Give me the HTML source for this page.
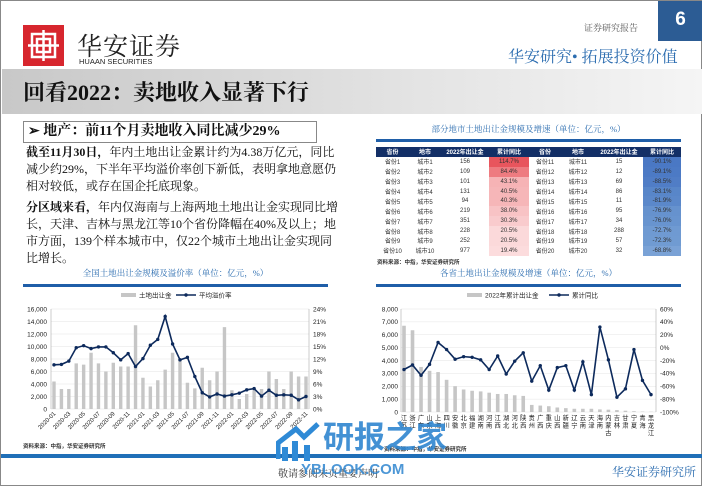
<!DOCTYPE html>
<html><head><meta charset="utf-8">
<style>
*{margin:0;padding:0;box-sizing:border-box}
body{width:702px;height:486px;position:relative;background:#fff;overflow:hidden;font-family:"Liberation Serif","Noto Serif CJK SC",serif;border:1px solid #888}
.a{position:absolute;white-space:nowrap}
.t{font-family:"Liberation Sans","Noto Sans CJK SC",sans-serif}
table{border-collapse:collapse;font-family:"Liberation Sans","Noto Sans CJK SC",sans-serif;font-size:6px;color:#333}
td{height:9.9px;text-align:center;padding:0}
.p div{height:17.2px;white-space:nowrap}
</style></head><body>
<!-- logo -->
<div class="a" style="left:22px;top:24px;width:41px;height:41px;background:#d7262e"></div>
<svg class="a" style="left:22px;top:24px" width="41" height="41"><g fill="none" stroke="#fff" stroke-width="2.5"><rect x="9" y="9" width="23" height="23"/><line x1="20.5" y1="5" x2="20.5" y2="36"/><line x1="5" y1="20.5" x2="36" y2="20.5"/><rect x="14" y="14" width="13" height="13"/></g></svg>
<div class="a" style="left:76px;top:26px;font-size:25px;color:#222;letter-spacing:1px">华安证券</div>
<div class="a t" style="left:78px;top:56px;font-size:7.5px;color:#222">HUAAN SECURITIES</div>
<div class="a" style="left:583px;top:20px;font-size:9px;color:#555">证券研究报告</div>
<div class="a t" style="left:657px;top:0;width:45px;height:40px;background:#2c5c94;color:#fff;font-size:19px;font-weight:bold;text-align:center;line-height:38px">6</div>
<div class="a" style="left:507px;top:47px;font-size:16px;line-height:20px;color:#2c6db0">华安研究• 拓展投资价值</div>
<div class="a" style="left:1px;top:68px;width:700px;height:45px;background:linear-gradient(90deg,#c8c8c8,#e4e4e4 60%,#f5f5f5)"></div>
<div class="a" style="left:22px;top:75px;font-size:22px;font-weight:bold;color:#111">回看2022：卖地收入显著下行</div>
<!-- subtitle -->
<div class="a" style="left:22px;top:120px;width:294px;height:22px;border:1px solid #888;font-size:14px;font-weight:bold;line-height:20px;padding-left:4px;color:#111">➢ 地产：前11个月卖地收入同比减少29%</div>
<div class="a p" style="left:25px;top:143px;font-size:12px;line-height:17.2px;color:#111">
<div><b>截至11月30日，</b>年内土地出让金累计约为4.38万亿元，同比</div>
<div>减少约29%，下半年平均溢价率创下新低，表明拿地意愿仍</div>
<div>相对较低，或存在国企托底现象。</div>
<div style="height:3px"></div>
<div><b>分区域来看，</b>年内仅海南与上海两地土地出让金实现同比增</div>
<div>长，天津、吉林与黑龙江等10个省份降幅在40%及以上；地</div>
<div>市方面，139个样本城市中，仅22个城市土地出让金实现同</div>
<div>比增长。</div>
</div>
<!-- table -->
<div class="a" style="left:375px;top:122px;width:305px;text-align:center;font-size:8.5px;color:#2c6db0">部分地市土地出让金规模及增速（单位：亿元，%）</div>
<div class="a" style="left:375px;top:138px;width:305px;height:3px;background:#1f5ea8"></div>
<table class="a" style="left:375px;top:146px;width:305px">
<tr style="background:#132f66;color:#fff;font-weight:bold"><td style="width:33px">省份</td><td style="width:32px">地市</td><td style="width:48px">2022年出让金</td><td style="width:40px">累计同比</td><td style="width:32px">省份</td><td style="width:34px">地市</td><td style="width:48px">2022年出让金</td><td style="width:38px">累计同比</td></tr>
<tr><td>省份1</td><td>城市1</td><td>156</td><td style="background:#e8555d">114.7%</td><td>省份11</td><td>城市11</td><td>15</td><td style="background:#4a78c4">-90.1%</td></tr>
<tr><td>省份2</td><td>城市2</td><td>109</td><td style="background:#ee7b80">84.4%</td><td>省份12</td><td>城市12</td><td>12</td><td style="background:#4c7ac5">-89.1%</td></tr>
<tr><td>省份3</td><td>城市3</td><td>101</td><td style="background:#f6b3b5">43.1%</td><td>省份13</td><td>城市13</td><td>69</td><td style="background:#507dc6">-88.5%</td></tr>
<tr><td>省份4</td><td>城市4</td><td>131</td><td style="background:#f6b6b8">40.5%</td><td>省份14</td><td>城市14</td><td>86</td><td style="background:#5886c9">-83.1%</td></tr>
<tr><td>省份5</td><td>城市5</td><td>94</td><td style="background:#f6b6b8">40.3%</td><td>省份15</td><td>城市15</td><td>11</td><td style="background:#5b88ca">-81.9%</td></tr>
<tr><td>省份6</td><td>城市6</td><td>219</td><td style="background:#f8c3c5">38.0%</td><td>省份16</td><td>城市16</td><td>95</td><td style="background:#6692ce">-76.9%</td></tr>
<tr><td>省份7</td><td>城市7</td><td>351</td><td style="background:#f9cbcd">30.3%</td><td>省份17</td><td>城市17</td><td>34</td><td style="background:#6894cf">-76.0%</td></tr>
<tr><td>省份8</td><td>城市8</td><td>228</td><td style="background:#fbd9da">20.5%</td><td>省份18</td><td>城市18</td><td>288</td><td style="background:#6f9ad2">-72.7%</td></tr>
<tr><td>省份9</td><td>城市9</td><td>252</td><td style="background:#fbd9da">20.5%</td><td>省份19</td><td>城市19</td><td>57</td><td style="background:#709bd2">-72.3%</td></tr>
<tr><td>省份10</td><td>城市10</td><td>977</td><td style="background:#fcdcdd">19.4%</td><td>省份20</td><td>城市20</td><td>32</td><td style="background:#7aa2d6">-68.8%</td></tr>
</table>
<div class="a t" style="left:376px;top:257px;font-size:5.5px;color:#333;font-weight:bold">资料来源：中指，华安证券研究所</div>
<!-- left chart -->
<div class="a" style="left:22px;top:266px;width:305px;text-align:center;font-size:8.5px;color:#2c6db0">全国土地出让金规模及溢价率（单位：亿元，%）</div>
<div class="a" style="left:22px;top:283px;width:305px;height:3px;background:#1f5ea8"></div>
<svg class="a t" style="left:0;top:288px" width="340" height="160" font-family="Liberation Sans, Noto Sans CJK SC, sans-serif" font-size="6.5" fill="#222" id="L"></svg>
<div class="a t" style="left:22px;top:441px;font-size:5.5px;color:#333;font-weight:bold">资料来源：中指，华安证券研究所</div>
<!-- right chart -->
<div class="a" style="left:375px;top:266px;width:305px;text-align:center;font-size:8.5px;color:#2c6db0">各省土地出让金规模及增速（单位：亿元，%）</div>
<div class="a" style="left:375px;top:283px;width:305px;height:3px;background:#1f5ea8"></div>
<svg class="a" style="left:350px;top:288px" width="352" height="160" font-family="Liberation Sans, Noto Sans CJK SC, sans-serif" font-size="6.5" fill="#222" id="R"></svg>
<div class="a t" style="left:383px;top:444px;font-size:5.5px;color:#333;font-weight:bold">资料来源：中指，华安证券研究所</div>
<!-- footer -->
<div class="a" style="left:0;top:453px;width:702px;height:4px;background:#1f6fb8"></div>
<div class="a" style="left:277px;top:464px;font-size:10px;color:#333">敬请参阅末页重要声明</div>
<div class="a" style="left:611px;top:462px;font-size:12px;color:#2c6db0">华安证券研究所</div>
<svg class="a" style="left:275px;top:420px" width="45" height="40"><path d="M2 38 L2 22 L20 8 L28 16 L42 3" stroke="#2f8ad6" stroke-width="5" fill="none"/><rect x="6" y="26" width="6" height="14" fill="#2f8ad6"/><rect x="16" y="20" width="6" height="20" fill="#2f8ad6"/><rect x="28" y="24" width="6" height="16" fill="#2f8ad6"/></svg>
<div class="a t" style="left:322px;top:411px;font-size:31px;font-weight:bold;color:#2f86d0;opacity:.9">研报之家</div>
<div class="a t" style="left:300px;top:460px;font-size:15px;font-weight:bold;color:#2f86d0;opacity:.85">YBLOOK.COM</div>
<script>
function el(p,t,a,txt){var e=document.createElementNS('http://www.w3.org/2000/svg',t);for(var k in a)e.setAttribute(k,a[k]);if(txt!=null)e.textContent=txt;p.appendChild(e);return e}
(function(){var s=document.getElementById('L');
var top=20,bot=120,x0=50,x1=308;
var bars=[4400,3200,3200,7300,7100,9000,7300,6000,7400,6800,6800,13400,5000,3600,4600,6300,9000,8000,4200,3300,6600,4600,6000,13100,3000,1600,2400,3000,3200,6000,4800,3200,6000,5200,5200];
var line=[10.6,10.7,11.5,14.7,15.2,14.5,14.9,14.9,13.5,11.8,13.3,10.2,12.1,15.3,16.7,22.2,15.6,11.8,12.4,7.8,3.9,2.9,3.6,3.1,3.4,3.8,4.6,4.9,3.1,4.5,3.3,3.4,3.3,2.2,3.0];
for(var i=0;i<=8;i++){var y=bot-i*(bot-top)/8;el(s,'line',{x1:x0,x2:x1,y1:y,y2:y,stroke:'#e4e4e4','stroke-width':0.6});
el(s,'text',{x:46,y:y+2.3,'text-anchor':'end'},(i*2000).toLocaleString('en-US'));el(s,'text',{x:312,y:y+2.3},(i*3)+'%');}
el(s,'line',{x1:x0,x2:x0,y1:top,y2:bot,stroke:'#aaa','stroke-width':0.6});el(s,'line',{x1:x1,x2:x1,y1:top,y2:bot,stroke:'#aaa','stroke-width':0.6});
var dx=(305-53)/34,pts=[];
for(var i=0;i<35;i++){var x=53+i*dx;var h=bars[i]/16000*(bot-top);el(s,'rect',{x:x-1.7,y:bot-h,width:3.4,height:h,fill:'#c6c6c6'});
pts.push(x+','+(bot-line[i]/24*(bot-top)));
if(i%2==0){var m=(i%12)+1,yr=2020+Math.floor(i/12);var lb=yr+'-'+(m<10?'0':'')+m;el(s,'text',{x:x+2,y:bot+5,'text-anchor':'end',transform:'rotate(-45 '+(x+2)+' '+(bot+5)+')','font-size':6},lb);}}
el(s,'polyline',{points:pts.join(' '),fill:'none',stroke:'#0d2a5c','stroke-width':1.6});
pts.forEach(function(p){var c=p.split(',');el(s,'circle',{cx:c[0],cy:c[1],r:1.7,fill:'#0d2a5c'})});
el(s,'rect',{x:120,y:4,width:15,height:4,fill:'#c6c6c6'});el(s,'text',{x:138,y:8.5},'土地出让金');
el(s,'line',{x1:175,x2:195,y1:6,y2:6,stroke:'#0d2a5c','stroke-width':1.5});el(s,'circle',{cx:185,cy:6,r:1.7,fill:'#0d2a5c'});el(s,'text',{x:198,y:8.5},'平均溢价率');
})();
(function(){var s=document.getElementById('R');
var top=20,bot=123,x0=50,x1=305;
var names=['江苏','浙江','广东','山东','上海','四川','安徽','北京','福建','湖南','河南','江西','湖北','河北','陕西','贵州','广西','重庆','山西','新疆','辽宁','云南','天津','海南','内蒙古','吉林','甘肃','宁夏','青海','黑龙江'];
var bars=[6700,6350,3500,3200,3100,2500,2000,1750,1650,1600,1500,1400,1400,1300,1250,550,500,450,350,300,250,250,250,200,180,150,100,60,30,20];
var line=[-34,-27,-43,-26,8,-3,-18,-14,-15,-19,-34,-13,-41,-21,-8,-52,-28,-66,-31,-28,-66,-22,-73,32,-19,-77,-64,-3,-51,-73];
for(var i=0;i<=8;i++){var y=bot-i*(bot-top)/8;el(s,'line',{x1:x0,x2:x1,y1:y,y2:y,stroke:'#e4e4e4','stroke-width':0.6});
el(s,'text',{x:47,y:y+2.3,'text-anchor':'end'},(i*1000).toLocaleString('en-US'));el(s,'text',{x:309,y:y+2.3},(-100+i*20)+'%');}
el(s,'line',{x1:x0,x2:x0,y1:top,y2:bot,stroke:'#aaa','stroke-width':0.6});el(s,'line',{x1:x1,x2:x1,y1:top,y2:bot,stroke:'#aaa','stroke-width':0.6});
var dx=(300-53)/29,pts=[];
for(var i=0;i<30;i++){var x=53+i*dx;var h=bars[i]/8000*(bot-top);el(s,'rect',{x:x-1.8,y:bot-h,width:3.6,height:h,fill:'#c6c6c6'});
pts.push(x+','+(bot-(line[i]+100)/160*(bot-top)));
for(var j=0;j<names[i].length;j++)el(s,'text',{x:x,y:bot+8+j*7.5,'text-anchor':'middle','font-size':6.3},names[i][j]);}
el(s,'polyline',{points:pts.join(' '),fill:'none',stroke:'#0d2a5c','stroke-width':1.6});
pts.forEach(function(p){var c=p.split(',');el(s,'circle',{cx:c[0],cy:c[1],r:1.7,fill:'#0d2a5c'})});
el(s,'rect',{x:116,y:4,width:15,height:4,fill:'#c6c6c6'});el(s,'text',{x:134,y:8.5},'2022年累计出让金');
el(s,'line',{x1:198,x2:218,y1:6,y2:6,stroke:'#0d2a5c','stroke-width':1.5});el(s,'circle',{cx:208,cy:6,r:1.7,fill:'#0d2a5c'});el(s,'text',{x:221,y:8.5},'累计同比');
})();
</script>
</body></html>
